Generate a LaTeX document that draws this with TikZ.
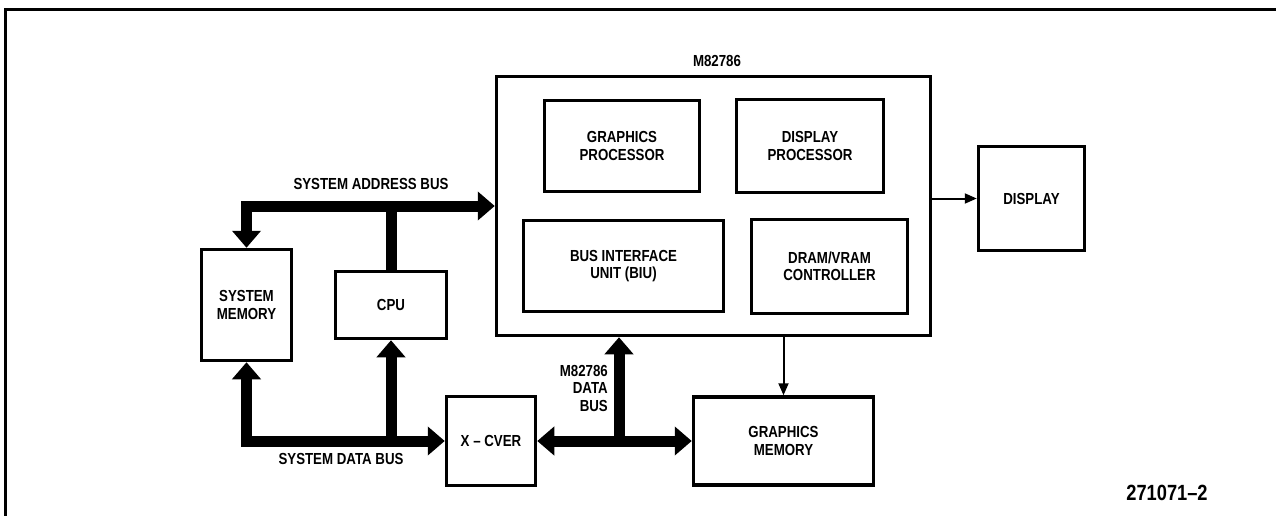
\documentclass[tikz,border=0pt]{standalone}
\usepackage{fontspec}
\setmainfont{Liberation Sans}[FakeStretch=0.83]
\usetikzlibrary{arrows.meta}

\begin{document}
\begin{tikzpicture}[x=1pt,y=-1pt,
  box/.style={draw, line width=3.5pt, inner sep=0pt, align=center,
    font=\fontsize{16}{17.5}\selectfont\bfseries},
  lbl/.style={inner sep=0pt, align=center,
    font=\fontsize{16}{17.5}\selectfont\bfseries},
  bus/.style={line width=11pt, >={Triangle[width=28pt,length=17pt]}},
  wire/.style={line width=2pt, -{Triangle[width=10pt,length=12pt]}}]
\useasboundingbox (0,0) rectangle (1276,516);
\draw[line width=3pt] (5,516) -- (5,10) -- (1276,10);
%
\node[box, minimum width=434pt, minimum height=259pt] (main) at (713.5,206) {};
\node[lbl] (chip) at (717,61) {M82786};
\node[box, minimum width=155pt, minimum height=91pt] (gp) at (622,146) {GRAPHICS\\PROCESSOR};
\node[box, minimum width=147pt, minimum height=93pt] (dp) at (810,146) {DISPLAY\\PROCESSOR};
\node[box, minimum width=200pt, minimum height=91pt] (biu) at (623.5,266) {BUS INTERFACE\\UNIT (BIU)};
\node[box, minimum width=156pt, minimum height=94pt] (dram) at (829.5,266.5) {DRAM/VRAM\\CONTROLLER};
%
\node[box, minimum width=106pt, minimum height=104pt] (display) at (1031.5,198.5) {DISPLAY};
\node[box, minimum width=90pt, minimum height=111pt] (sysmem) at (246.5,305) {SYSTEM\\MEMORY};
\node[box, minimum width=111pt, minimum height=67pt] (cpu) at (391,305) {CPU};
\node[box, minimum width=89pt, minimum height=89pt] (xcvr) at (491,441) {X -- CVER};
\node[box, minimum width=180pt, minimum height=88pt] (gmem) at (783.5,441) {GRAPHICS\\MEMORY};
%
\draw[bus,<->] (sysmem.north) |- (main.west);
\draw[bus] (cpu.north) -- (cpu.north |- main.west);
\node[lbl] (addrlbl) at (371,184) {SYSTEM ADDRESS BUS};
%
\draw[bus,<->] (sysmem.south) |- (xcvr.west);
\draw[bus,->] (cpu.south |- xcvr.west) -- (cpu.south);
\node[lbl] (datalbl) at (341,459) {SYSTEM DATA BUS};
%
\coordinate (tap) at (619,441);
\draw[bus,<->] (xcvr.east) -- (gmem.west);
\draw[bus,->] (tap) -- (tap |- main.south);
\node[lbl, align=right, anchor=east] (mbuslbl) at (608,388) {M82786\\DATA\\BUS};
%
\draw[wire] (main.east |- display.west) -- (display.west);
\draw[wire] (gmem.north |- main.south) -- (gmem.north);
%
\node[lbl, font=\fontsize{22}{24}\selectfont\bfseries] (fig) at (1167,493) {271071--2};
\end{tikzpicture}
\end{document}
